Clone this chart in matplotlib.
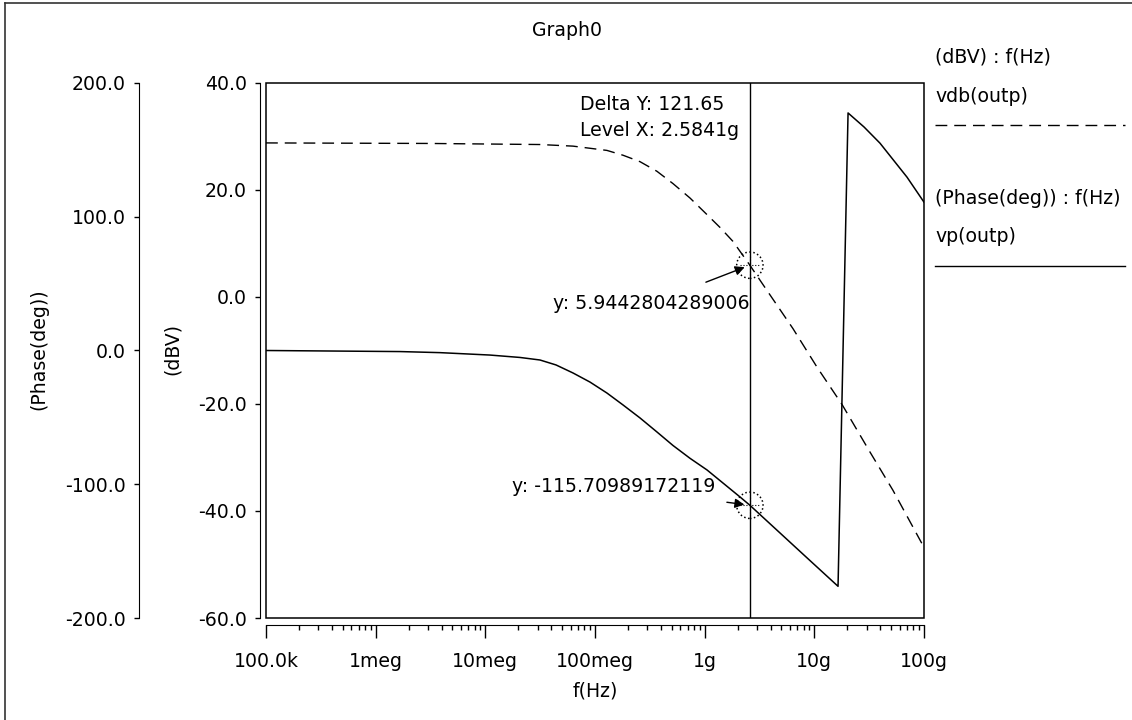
import matplotlib.pyplot as plt
from matplotlib.lines import Line2D
from matplotlib.patches import Rectangle
from matplotlib.ticker import FixedLocator, FormatStrFormatter, NullFormatter

W, H = 1132, 720

# vdb(outp)
freq_db = [1e5, 3.1e6, 3.15e7, 6.3e7, 1.285e8, 1.8e8, 2.57e8, 3.67e8, 5.14e8, 7.35e8,
           1.05e9, 1.38e9, 1.81e9, 2.5841e9, 3.33e9, 6.38e9, 1.057e10, 1.79e10,
           3.2e10, 5.2e10, 1e11]
vdb = [28.8, 28.7, 28.5, 28.2, 27.4, 26.5, 25.3, 23.5, 21.2, 18.5,
       15.4, 13.0, 10.4, 5.94, 2.6, -5.9, -13.1, -20.1,
       -28.9, -36.1, -46.8]

# vp(outp), wraps at -180
freq_ph = [1e5, 1.67e6, 3.86e6, 1.1e7, 2.07e7, 3.15e7, 4.41e7, 6.3e7, 9.0e7, 1.285e8,
           1.8e8, 2.57e8, 3.67e8, 5.14e8, 7.35e8, 1.05e9, 1.47e9, 2.1e9, 2.5841e9,
           4.86e9, 8.57e9, 1.645e10, 2.03e10, 2.84e10, 3.97e10, 7.0e10, 1e11]
vp = [0.0, -0.8, -1.6, -3.4, -5.2, -7.1, -10.8, -16.8, -23.6, -31.8,
      -40.7, -50.4, -60.9, -71.0, -80.6, -89.3, -99.1, -109.5, -115.7,
      -136.4, -155.0, -176.3, 177.6, 167.1, 155.0, 129.6, 110.9]

cursor_f = 2.5841e9
cursor_db = 5.9442804289006
cursor_ph = -115.70989172119

x_ticks = [1e5, 1e6, 1e7, 1e8, 1e9, 1e10, 1e11]
x_labels = ['100.0k', '1meg', '10meg', '100meg', '1g', '10g', '100g']
db_ticks = [-60, -40, -20, 0, 20, 40]
ph_ticks = [-200, -100, 0, 100, 200]

plt.rcParams['font.family'] = ['DejaVu Sans']
FS = 13.6
DASH = (8.5, 5)

fig = plt.figure(figsize=(W / 100, H / 100), dpi=100)
x0, x1, y0, y1 = 266, 924, 83, 618
pw, ph_ = x1 - x0, y1 - y0
ax = fig.add_axes([x0 / W, 1 - y1 / H, pw / W, ph_ / H])
ax2 = ax.twinx()

# dBV trace
ax.plot(freq_db, vdb, color='black', lw=1.0, dashes=DASH)
ax.set_xscale('log')
ax.set_xlim(1e5, 1e11)
ax.set_ylim(-60, 40)
for s in ['top', 'right']:
    ax.spines[s].set_visible(False)
ax.spines['left'].set_position(('axes', -6 / pw))
ax.spines['bottom'].set_position(('axes', -7 / ph_))
ax.yaxis.set_major_locator(FixedLocator(db_ticks))
ax.yaxis.set_major_formatter(FormatStrFormatter('%.1f'))
ax.tick_params(axis='y', direction='out', length=3.6, width=1, pad=6, labelsize=FS)
ax.set_xticks(x_ticks)
ax.set_xticklabels(x_labels)
ax.xaxis.set_minor_locator(FixedLocator(
    [m * d for d in x_ticks[:-1] for m in range(2, 10)]))
ax.xaxis.set_minor_formatter(NullFormatter())
ax.tick_params(axis='x', which='major', direction='out', length=9.4, width=1, pad=10, labelsize=FS)
ax.tick_params(axis='x', which='minor', direction='out', length=3.6, width=1)
ax.add_patch(Rectangle((0, 0), 1, 1, transform=ax.transAxes, fill=False,
                       lw=1.1, color='black', clip_on=False))

# phase trace
ax2.plot(freq_ph, vp, color='black', lw=1.1)
ax2.set_ylim(-200, 200)
for s in ['top', 'right', 'bottom']:
    ax2.spines[s].set_visible(False)
ax2.spines['left'].set_visible(True)
ax2.spines['left'].set_position(('axes', -127 / pw))
ax2.yaxis.tick_left()
ax2.yaxis.set_major_locator(FixedLocator(ph_ticks))
ax2.yaxis.set_major_formatter(FormatStrFormatter('%.1f'))
ax2.tick_params(axis='y', direction='out', length=3.6, width=1, pad=6, labelsize=FS)

# cursor
ax.axvline(cursor_f, color='black', lw=1.0)
for a, yv, off in [(ax, cursor_db, (-44, -17)), (ax2, cursor_ph, (-23, 3))]:
    a.scatter([cursor_f], [yv], s=360, facecolors='none', edgecolors='black',
              linestyles=':', linewidths=1.1, zorder=5)
    a.scatter([cursor_f], [yv], s=220, marker='+', color='black',
              linestyles=':', linewidths=0.8, zorder=5)
    a.annotate('', xy=(cursor_f, yv), xytext=off, textcoords='offset pixels',
               arrowprops=dict(arrowstyle='-|>', color='black', lw=1.0,
                               shrinkA=0, shrinkB=4, mutation_scale=14))


def px(x, y):
    return x / W, 1 - y / H


fig.text(*px(567, 30), 'Graph0', fontsize=FS, ha='center', va='center')
fig.text(*px(580, 104), 'Delta Y: 121.65', fontsize=FS, ha='left', va='center')
fig.text(*px(580, 131), 'Level X: 2.5841g', fontsize=FS, ha='left', va='center')
fig.text(*px(553, 303), 'y: ' + '5.9442804289006', fontsize=FS, ha='left', va='center')
fig.text(*px(512, 487), 'y: ' + '-115.70989172119', fontsize=FS, ha='left', va='center')
fig.text(*px(595, 691), 'f(Hz)', fontsize=FS, ha='center', va='center')
fig.text(*px(39, 349), '(Phase(deg))', fontsize=FS, ha='center', va='center', rotation=90)
fig.text(*px(172, 349), '(dBV)', fontsize=FS, ha='center', va='center', rotation=90)

# legend on the right
fig.text(*px(935, 57), '(dBV) : f(Hz)', fontsize=FS, ha='left', va='center')
fig.text(*px(935, 97), 'vdb(outp)', fontsize=FS, ha='left', va='center')
fig.add_artist(Line2D([935 / W, 1125 / W], [1 - 125 / H, 1 - 125 / H],
                      color='black', lw=1.0, dashes=DASH))
fig.text(*px(935, 198), '(Phase(deg)) : f(Hz)', fontsize=FS, ha='left', va='center')
fig.text(*px(935, 237), 'vp(outp)', fontsize=FS, ha='left', va='center')
fig.add_artist(Line2D([935 / W, 1125 / W], [1 - 266 / H, 1 - 266 / H],
                      color='black', lw=1.0))

# window border
fig.add_artist(Line2D([4.5 / W, 4.5 / W], [0, 1 - 2.5 / H], color='#333333', lw=1.2))
fig.add_artist(Line2D([4.5 / W, 1], [1 - 2.5 / H, 1 - 2.5 / H], color='#333333', lw=1.2))

fig.savefig('out.png', dpi=100)
